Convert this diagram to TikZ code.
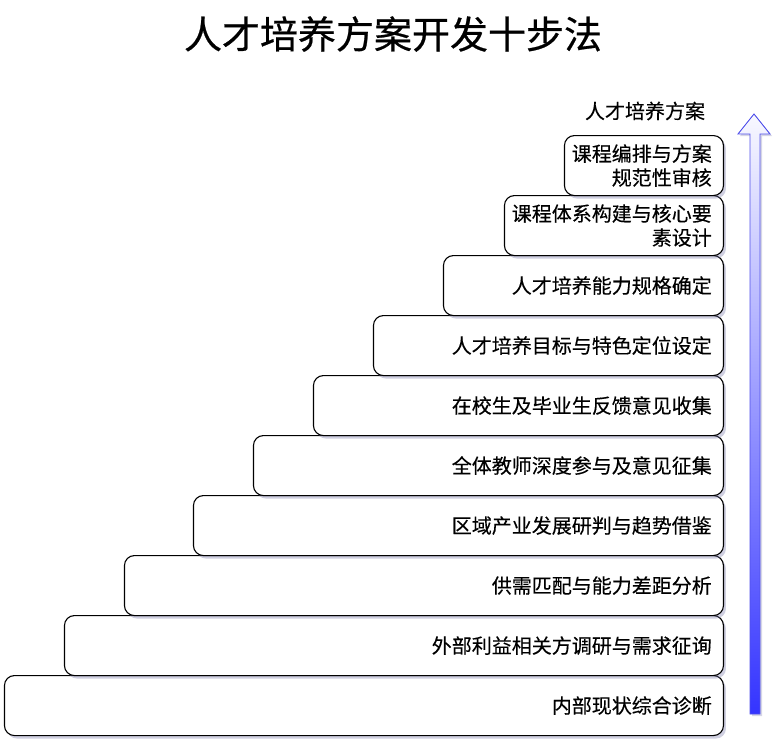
\documentclass[tikz,border=0pt]{standalone}
\usepackage{fontspec}
\setmainfont{Noto Sans CJK SC}
\newfontfamily\titlefont[FakeBold=0.6]{Noto Sans CJK SC}
\newfontfamily\boxfont[FakeBold=0.25]{Noto Sans CJK SC}
\usetikzlibrary{shadows}
\definecolor{arrowblue}{RGB}{52,52,255}
\definecolor{arrowtop}{RGB}{248,248,255}
\definecolor{arrowline}{RGB}{80,80,235}
\definecolor{shadowc}{RGB}{120,120,170}
\tikzset{
  stepbox/.style={draw=black, line width=1.1pt, fill=white, rounded corners=10pt,
    minimum height=60pt, anchor=north east, inner sep=0pt,
    drop shadow={shadow xshift=2.5pt, shadow yshift=-3pt, fill=shadowc, opacity=0.35}},
  steptext/.style={anchor=east, inner sep=0pt, align=right,
    font=\boxfont\fontsize{20pt}{24pt}\selectfont},
  titletext/.style={inner sep=0pt, font=\titlefont\fontsize{38pt}{44pt}\selectfont},
  toptext/.style={inner sep=0pt, font=\boxfont\fontsize{20pt}{24pt}\selectfont}
}
\begin{document}
\begin{tikzpicture}[x=1pt,y=-1pt]
\useasboundingbox (0,0) rectangle (782,753);
% title
\node[titletext] (title) at (393,34) {人才培养方案开发十步法};
% steps, bottom to top
\node[stepbox, minimum width=719pt] (s1) at (724,675) {};
\node[steptext] (t1) at ([xshift=-12pt]s1.east) {内部现状综合诊断};
\node[stepbox, minimum width=659pt] (s2) at (724,615) {};
\node[steptext] (t2) at ([xshift=-12pt]s2.east) {外部利益相关方调研与需求征询};
\node[stepbox, minimum width=599pt] (s3) at (724,555) {};
\node[steptext] (t3) at ([xshift=-12pt]s3.east) {供需匹配与能力差距分析};
\node[stepbox, minimum width=530pt] (s4) at (724,495) {};
\node[steptext] (t4) at ([xshift=-12pt]s4.east) {区域产业发展研判与趋势借鉴};
\node[stepbox, minimum width=470pt] (s5) at (724,435) {};
\node[steptext] (t5) at ([xshift=-12pt]s5.east) {全体教师深度参与及意见征集};
\node[stepbox, minimum width=410pt] (s6) at (724,375) {};
\node[steptext] (t6) at ([xshift=-12pt]s6.east) {在校生及毕业生反馈意见收集};
\node[stepbox, minimum width=350pt] (s7) at (724,315) {};
\node[steptext] (t7) at ([xshift=-12pt]s7.east) {人才培养目标与特色定位设定};
\node[stepbox, minimum width=280pt] (s8) at (724,255) {};
\node[steptext] (t8) at ([xshift=-12pt]s8.east) {人才培养能力规格确定};
\node[stepbox, minimum width=219pt] (s9) at (724,195) {};
\node[steptext] (t9) at ([xshift=-12pt]s9.east) {课程体系构建与核心要\\素设计};
\node[stepbox, minimum width=159pt] (s10) at (724,135) {};
\node[steptext] (t10) at ([xshift=-12pt]s10.east) {课程编排与方案\\规范性审核};
% arrow
\shade[top color=arrowtop, bottom color=arrowblue, draw=arrowline, line width=0.9pt,
  drop shadow={shadow xshift=2pt, shadow yshift=-2pt, fill=shadowc, opacity=0.3}]
  (750,714) -- (750,134) -- (738,134) -- (754,114) -- (770,134) -- (760,134) -- (760,714) -- cycle;
\node[toptext] (goal) at (645,111) {人才培养方案};
\end{tikzpicture}
\end{document}
